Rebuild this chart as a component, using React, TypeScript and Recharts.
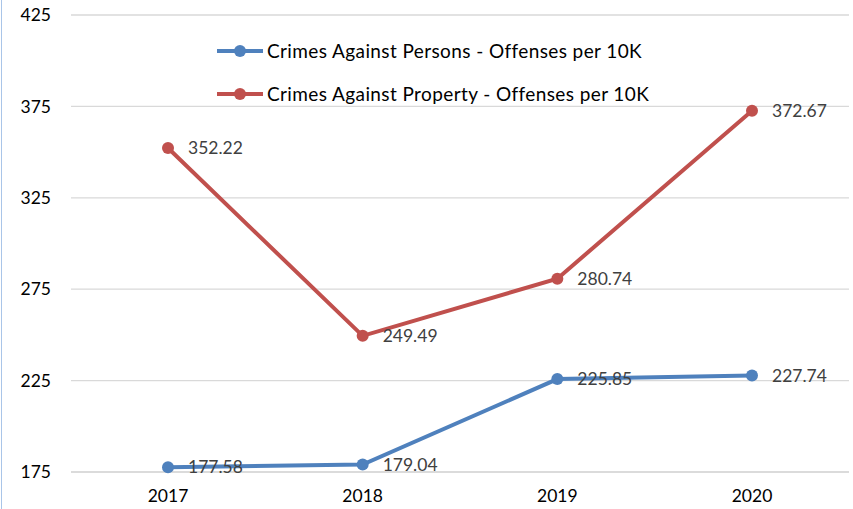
import React from 'react';
import { LineChart, Line, XAxis, YAxis, CartesianGrid, LabelList } from 'recharts';

const years = ['2017', '2018', '2019', '2020'];
const persons = [177.58, 179.04, 225.85, 227.74];
const property = [352.22, 249.49, 280.74, 372.67];
const yTicks = [175, 225, 275, 325, 375, 425];

const seriesNames = ['Crimes Against Persons - Offenses per 10K', 'Crimes Against Property - Offenses per 10K'];
const seriesColors = ['#4f81bd', '#c0504d'];

const data = years.map((y, i) => ({ year: y, persons: persons[i], property: property[i] }));

const FONT = 'Lato, "Open Sans", sans-serif';

function LegendBox() {
  return (
    <div style={{ position: 'absolute', left: 215, top: 29, fontFamily: FONT }}>
      {seriesNames.map((n, i) => (
        <div key={i} style={{ display: 'flex', alignItems: 'center', height: 43 }}>
          <svg width={52} height={14} style={{ display: 'block' }}>
            <line x1={2} y1={7} x2={48} y2={7} stroke={seriesColors[i]} strokeWidth={4} />
            <circle cx={25} cy={7} r={6} fill={seriesColors[i]} />
          </svg>
          <span style={{ fontSize: 19, letterSpacing: 0.4, color: '#000', whiteSpace: 'nowrap' }}>{n}</span>
        </div>
      ))}
    </div>
  );
}

export default function App() {
  return (
    <div style={{ position: 'absolute', left: 0, top: 0, width: 853, height: 509, background: '#fff' }}>
      <LineChart width={853} height={509} data={data} margin={{ top: 15, right: 4, bottom: 0, left: 0 }}>
        <CartesianGrid vertical={false} stroke="#d9d9d9" strokeWidth={1.3} />
        <XAxis
          dataKey="year"
          height={37}
          padding={{ left: 97, right: 97 }}
          tickSize={0}
          tickMargin={18}
          axisLine={{ stroke: '#d9d9d9', strokeWidth: 1.3 }}
          tickLine={false}
          tick={{ fontFamily: FONT, fontSize: 17.5, fill: '#000' }}
        />
        <YAxis
          width={71}
          domain={[175, 425]}
          ticks={yTicks}
          tickSize={0}
          tickMargin={20}
          axisLine={false}
          tickLine={false}
          tick={{ fontFamily: FONT, fontSize: 17.5, fill: '#000' }}
        />
        <Line
          dataKey="persons"
          name={seriesNames[0]}
          stroke={seriesColors[0]}
          strokeWidth={4}
          dot={{ r: 6, fill: seriesColors[0], stroke: seriesColors[0], strokeWidth: 0 }}
          isAnimationActive={false}
        >
          <LabelList dataKey="persons" position="right" offset={20} fill="#404040" fontSize={17.5} fontFamily={FONT} />
        </Line>
        <Line
          dataKey="property"
          name={seriesNames[1]}
          stroke={seriesColors[1]}
          strokeWidth={4}
          dot={{ r: 6, fill: seriesColors[1], stroke: seriesColors[1], strokeWidth: 0 }}
          isAnimationActive={false}
        >
          <LabelList dataKey="property" position="right" offset={20} fill="#404040" fontSize={17.5} fontFamily={FONT} />
        </Line>
      </LineChart>
      <LegendBox />
      <div style={{ position: 'absolute', left: 1, top: 0, width: 1, height: 509, background: '#a9c5e8' }} />
    </div>
  );
}
